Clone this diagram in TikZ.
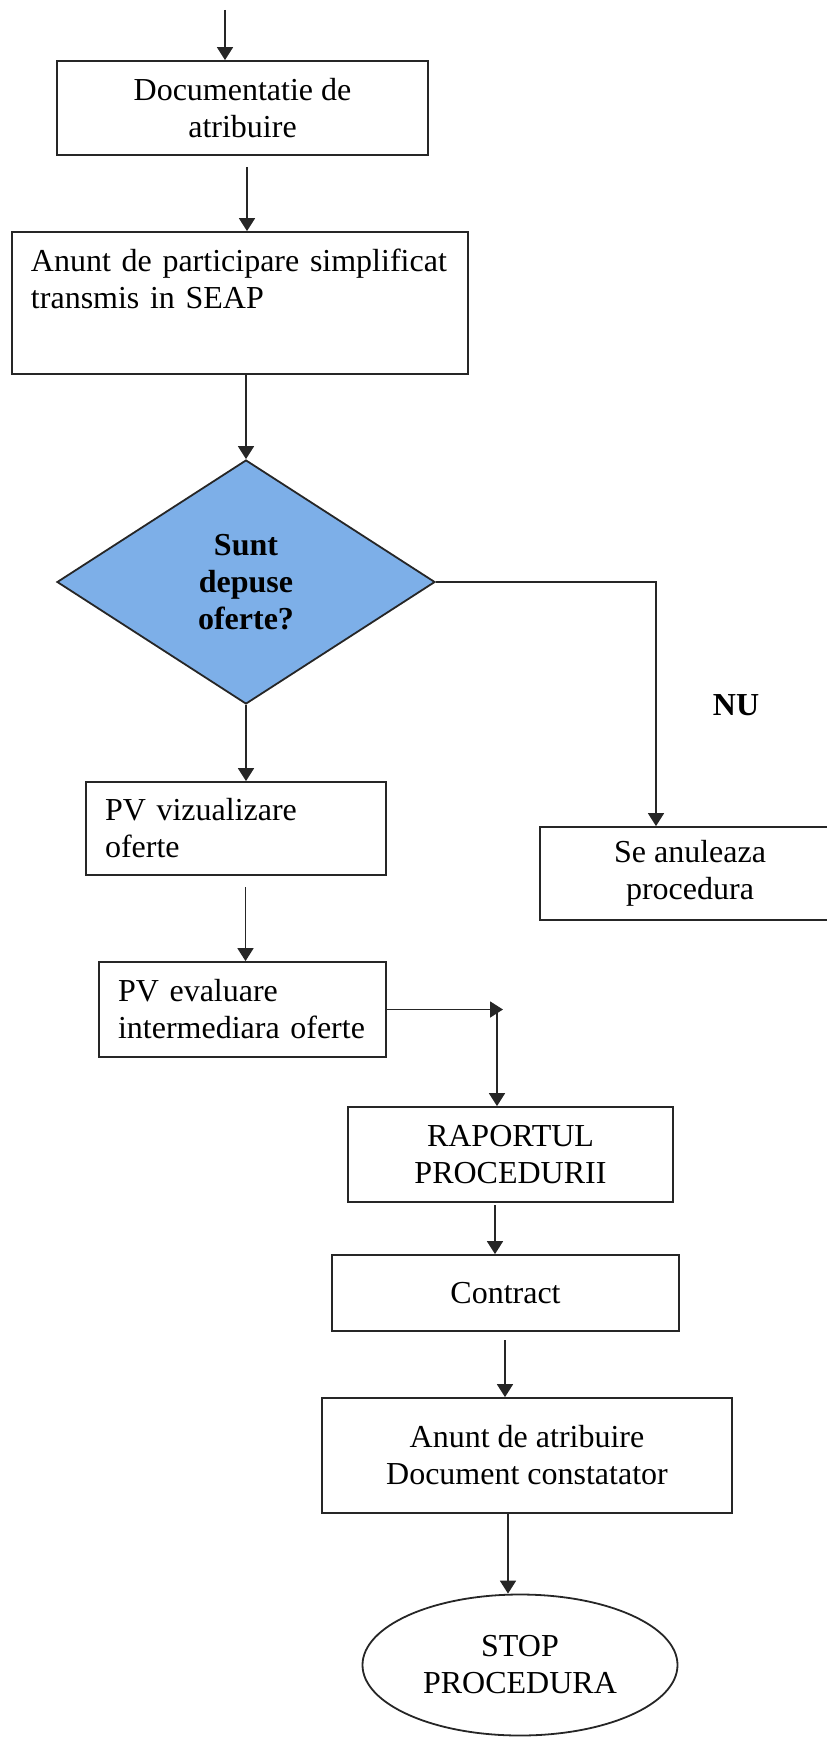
\documentclass[tikz,border=0pt]{standalone}
\usepackage{fontspec}
\setmainfont{Liberation Serif}
\usetikzlibrary{shapes.geometric,arrows.meta}
\definecolor{diablue}{RGB}{125,175,232}
\tikzset{
  base/.style={draw=black!85, line width=0.9pt, font=\fontsize{16pt}{18.5pt}\selectfont, inner sep=0pt},
  boxc/.style={base, rectangle, align=center},
  boxl/.style={base, rectangle, align=left},
  arr/.style={draw=black!85, line width=0.9pt, -{Triangle[length=6.5pt,width=8pt]}},
  plainline/.style={draw=black!85, line width=0.9pt}
}
\begin{document}
\begin{tikzpicture}[x=0.5pt,y=-0.5pt]
\useasboundingbox (0,0) rectangle (826,1739);

\node[boxc, minimum width=185.5pt, minimum height=47pt] (doc) at (242.5,108) {Documentatie de\\atribuire};
\node[boxl, minimum width=228pt, minimum height=71pt, text width=209pt, inner xsep=9.5pt] (anp) at (240,303) {Anunt de participare simplificat\\transmis in SEAP\\\strut};
\node[base, diamond, fill=diablue, minimum width=189pt, minimum height=122pt, align=center, font=\fontsize{16pt}{18.5pt}\selectfont\bfseries] (dia) at (246,582) {Sunt\\depuse\\oferte?};
\node[boxl, minimum width=150pt, minimum height=46.5pt, text width=131pt, inner xsep=9.5pt] (pvviz) at (236,828.5) {PV vizualizare\\oferte};
\node[boxc, minimum width=150pt, minimum height=46.5pt] (anul) at (690,873.5) {Se anuleaza\\procedura};
\node[font=\fontsize{16pt}{18.5pt}\selectfont\bfseries, inner sep=0pt] (nu) at (736,705) {NU};
\node[boxl, minimum width=143.5pt, minimum height=47.5pt, text width=124.5pt, inner xsep=9.5pt] (pveval) at (242.5,1009.5) {PV evaluare\\intermediara oferte};
\node[boxc, minimum width=162.5pt, minimum height=47.5pt] (rap) at (510.5,1154.5) {RAPORTUL\\PROCEDURII};
\node[boxc, minimum width=173.5pt, minimum height=38pt] (con) at (505.5,1293) {Contract};
\node[boxc, minimum width=205pt, minimum height=57.5pt] (atr) at (527,1455.5) {Anunt de atribuire\\Document constatator};
\node[base, ellipse, minimum width=157.5pt, minimum height=70.5pt, align=center] (stop) at (520,1665) {STOP\\PROCEDURA};

\coordinate (start) at (225,10);
\coordinate (c1) at (247,167);
\coordinate (nuturn) at (656,582);
\coordinate (c2) at (245.5,887);
\coordinate (corner) at (503,1009.5);
\coordinate (vtop) at (497,1009.5);
\coordinate (c3) at (495,1205);
\coordinate (c4) at (505,1340);
\coordinate (c5) at (508,1513);

\draw[arr] (start) -- (start |- doc.north);
\draw[arr] (c1) -- (c1 |- anp.north);
\draw[arr] (anp.south -| dia.north) -- (dia.north);
\draw[arr] (dia.south) -- (dia.south |- pvviz.north);
\draw[arr] (dia.east) -- (nuturn) -- (nuturn |- anul.north);
\draw[arr] (c2) -- (c2 |- pveval.north);
\draw[arr] (pveval.east) -- (corner);
\draw[arr] (vtop) -- (vtop |- rap.north);
\draw[arr] (c3) -- (c3 |- con.north);
\draw[arr] (c4) -- (c4 |- atr.north);
\draw[arr] (c5) -- (c5 |- stop.north);
\end{tikzpicture}
\end{document}
